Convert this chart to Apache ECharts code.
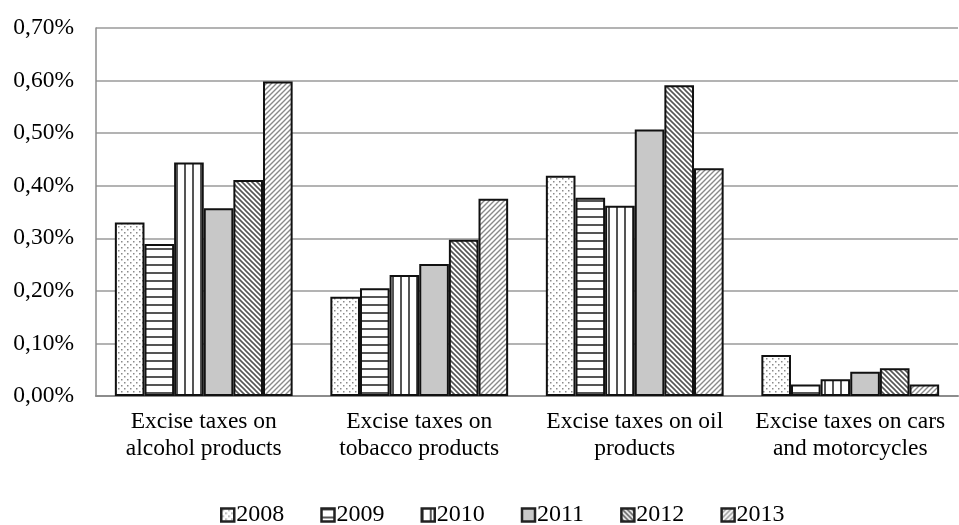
<!DOCTYPE html>
<html>
<head>
<meta charset="utf-8">
<script src="https://cdn.jsdelivr.net/npm/echarts@6/dist/echarts.min.js"></script>
<style>
  html, body { margin: 0; padding: 0; background: #fff; }
  #chart { width: 959px; height: 525px; }
</style>
</head>
<body>
<div id="chart"></div>
<script>
// Excise tax revenue as share of GDP, in percent
const categories = [
  'Excise taxes on\nalcohol products',
  'Excise taxes on\ntobacco products',
  'Excise taxes on oil\nproducts',
  'Excise taxes on cars\nand motorcycles'
];
const years = ['2008', '2009', '2010', '2011', '2012', '2013'];
const values2008 = [0.330, 0.189, 0.419, 0.078];
const values2009 = [0.289, 0.205, 0.377, 0.022];
const values2010 = [0.444, 0.230, 0.362, 0.032];
const values2011 = [0.357, 0.251, 0.507, 0.046];
const values2012 = [0.411, 0.297, 0.591, 0.053];
const values2013 = [0.598, 0.375, 0.433, 0.022];
const yTicks = [0, 0.1, 0.2, 0.3, 0.4, 0.5, 0.6, 0.7];

// Fill patterns for each year, drawn on small canvases
function makeCanvas(w, h, draw) {
  const c = document.createElement('canvas');
  c.width = w; c.height = h;
  const ctx = c.getContext('2d');
  ctx.fillStyle = '#ffffff';
  ctx.fillRect(0, 0, w, h);
  draw(ctx, w, h);
  return c;
}
const patDots = makeCanvas(6, 6, (ctx) => {
  ctx.fillStyle = '#8a8a8a';
  ctx.fillRect(1, 1, 1.5, 1.5);
  ctx.fillRect(4, 4, 1.5, 1.5);
});
const patHoriz = makeCanvas(8, 8, (ctx) => {
  ctx.fillStyle = '#555555';
  ctx.fillRect(0, 0, 8, 2);
});
const patVert = makeCanvas(8, 8, (ctx) => {
  ctx.fillStyle = '#555555';
  ctx.fillRect(0, 0, 2, 8);
});
const patDiagDown = makeCanvas(5, 5, (ctx) => {
  ctx.strokeStyle = '#555555';
  ctx.lineWidth = 1.6;
  ctx.beginPath();
  ctx.moveTo(-1, -1); ctx.lineTo(6, 6);
  ctx.moveTo(-1, 4); ctx.lineTo(1, 6);
  ctx.moveTo(4, -1); ctx.lineTo(6, 1);
  ctx.stroke();
});
const patDiagUp = makeCanvas(5, 5, (ctx) => {
  ctx.strokeStyle = '#8a8a8a';
  ctx.lineWidth = 1.4;
  ctx.beginPath();
  ctx.moveTo(-1, 6); ctx.lineTo(6, -1);
  ctx.moveTo(-1, 1); ctx.lineTo(1, -1);
  ctx.moveTo(4, 6); ctx.lineTo(6, 4);
  ctx.stroke();
});

const fills = [
  { image: patDots, repeat: 'repeat' },
  { image: patHoriz, repeat: 'repeat' },
  { image: patVert, repeat: 'repeat' },
  '#c8c8c8',
  { image: patDiagDown, repeat: 'repeat' },
  { image: patDiagUp, repeat: 'repeat' }
];
const seriesValues = [values2008, values2009, values2010, values2011, values2012, values2013];

const font = '"Liberation Serif", "Times New Roman", serif';

const chart = echarts.init(document.getElementById('chart'), null, { renderer: 'canvas' });
chart.setOption({
  animation: false,
  backgroundColor: '#ffffff',
  grid: { left: 96, right: 1, top: 28, bottom: 129, containLabel: false },
  legend: {
    data: years,
    icon: 'rect',
    left: 220,
    top: 503,
    padding: 0,
    itemWidth: 13,
    itemHeight: 13,
    itemGap: 36,
    itemStyle: { borderColor: '#222', borderWidth: 2.5 },
    textStyle: { fontFamily: font, fontSize: 24, color: '#000', padding: [0, 0, 0, -3] }
  },
  xAxis: {
    type: 'category',
    data: categories,
    axisTick: { show: false },
    axisLine: { lineStyle: { color: '#8c8c8c', width: 2 } },
    axisLabel: {
      fontFamily: font, fontSize: 23.5, color: '#000',
      lineHeight: 27, margin: 12, interval: 0
    }
  },
  yAxis: {
    type: 'value',
    min: 0, max: 0.7, interval: 0.1,
    axisLine: { show: true, lineStyle: { color: '#8c8c8c', width: 1.5 } },
    axisTick: { show: true, length: 0 },
    splitLine: { lineStyle: { color: '#9a9a9a', width: 1.5 } },
    axisLabel: {
      fontFamily: font, fontSize: 23.5, color: '#000', margin: 22,
      formatter: (v) => {
        const t = yTicks.find(x => Math.abs(x - v) < 1e-9);
        return (t !== undefined ? t : v).toFixed(2).replace('.', ',') + '%';
      }
    }
  },
  series: years.map((y, i) => ({
    name: y,
    type: 'bar',
    data: seriesValues[i],
    barGap: '0%',
    barCategoryGap: '17.5%',
    itemStyle: { color: fills[i], borderColor: '#111', borderWidth: 2 }
  }))
});
</script>
</body>
</html>
